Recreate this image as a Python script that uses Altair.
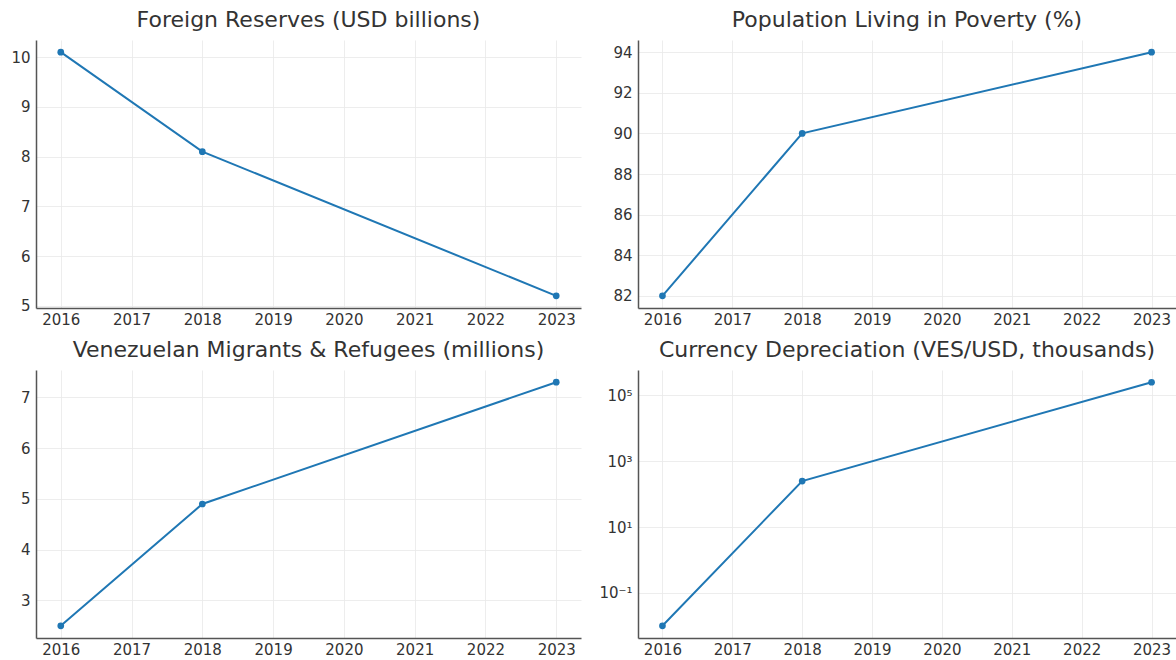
import altair as alt
import pandas as pd

years = [2016, 2018, 2023]
reserves = [10.1, 8.1, 5.2]
poverty = [82, 90, 94]
migrants = [2.5, 4.9, 7.3]
currency = [0.01, 250, 250000]

titles = [
    "Foreign Reserves (USD billions)",
    "Population Living in Poverty (%)",
    "Venezuelan Migrants & Refugees (millions)",
    "Currency Depreciation (VES/USD, thousands)",
]
x_ticks = [2016, 2017, 2018, 2019, 2020, 2021, 2022, 2023]

COLOR = "#1f77b4"
FONT = "DejaVu Sans"


def panel(values, title, width, y_domain, y_ticks, log=False):
    df = pd.DataFrame({"year": years, "value": values})
    x = alt.X(
        "year:Q",
        scale=alt.Scale(domain=[2015.65, 2023.35], nice=False, zero=False),
        axis=alt.Axis(values=x_ticks, format="d", title=None),
    )
    if log:
        yscale = alt.Scale(type="log", domain=y_domain, nice=False)
        yaxis = alt.Axis(
            values=y_ticks,
            title=None,
            labelExpr="datum.value < 1 ? '10⁻¹' : datum.value < 100 ? '10¹' : datum.value < 10000 ? '10³' : '10⁵'",
        )
    else:
        yscale = alt.Scale(domain=y_domain, nice=False, zero=False)
        yaxis = alt.Axis(values=y_ticks, title=None, format="d")
    y = alt.Y("value:Q", scale=yscale, axis=yaxis)
    base = alt.Chart(df).encode(x=x, y=y)
    line = base.mark_line(color=COLOR, strokeWidth=2)
    pts = base.mark_circle(color=COLOR, size=45, opacity=1)
    return (line + pts).properties(
        width=width,
        height=268,
        title=alt.TitleParams(title, fontSize=22, font=FONT, color="#333333",
                              fontWeight="normal", offset=8),
    )


p1 = panel(reserves, titles[0], 545, [4.955, 10.345], [5, 6, 7, 8, 9, 10])
p2 = panel(poverty, titles[1], 538, [81.4, 94.6], [82, 84, 86, 88, 90, 92, 94])
p3 = panel(migrants, titles[2], 545, [2.26, 7.54], [3, 4, 5, 6, 7])
p4 = panel(currency, titles[3], 538, [10 ** -2.37, 10 ** 5.77], [0.1, 10, 1000, 100000], log=True)

chart = (
    alt.concat(p1, p2, p3, p4, columns=2, spacing={"row": 62, "column": 57}, bounds="flush")
    .properties(padding={"left": 10, "top": 9, "right": 0, "bottom": 0}, background="white")
    .configure_view(stroke=None)
    .configure_axis(
        grid=True,
        gridColor="#e8e8e8",
        gridWidth=0.8,
        domainColor="#555555",
        domainWidth=1.5,
        ticks=False,
        labelFont=FONT,
        labelFontSize=15,
        labelColor="#333333",
    )
    .configure_axisY(labelPadding=6)
    .configure_axisX(labelPadding=4)
)

chart.save("out.html", embed_options={"renderer": "svg", "actions": False})
